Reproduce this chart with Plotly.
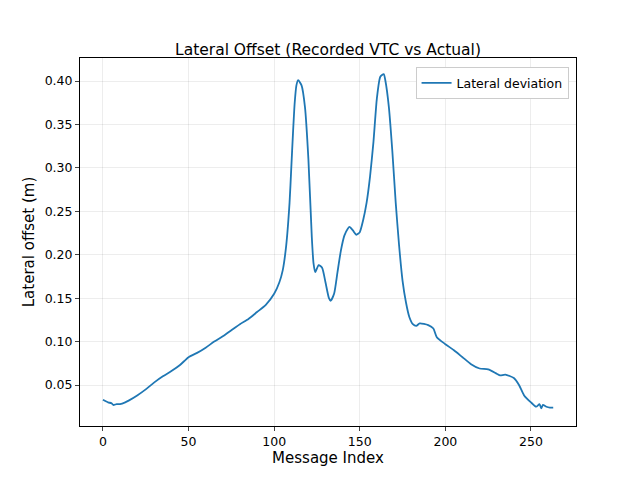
import plotly.graph_objects as go

msg_index = [0, 3, 5, 6, 8, 10, 13, 15, 20, 25, 30, 35, 40, 45, 50, 55, 60, 65, 70, 75,
             80, 85, 90, 95, 100, 103, 105, 107, 109, 110, 111, 112, 113, 114, 116, 118,
             120, 122, 123, 124, 126, 128, 130, 132, 133, 135, 137, 139, 141, 143, 144,
             146, 148, 150, 152, 154, 156, 158, 160, 162, 164, 165, 167, 169, 171, 173,
             175, 177, 179, 181, 183, 185, 190, 193, 195, 200, 205, 210, 215, 220, 225,
             230, 232, 235, 240, 243, 246, 250, 253, 255, 256, 257, 259, 261, 263, 265]
lateral_dev = [0.033, 0.030, 0.029, 0.027, 0.028, 0.028, 0.030, 0.032, 0.038, 0.045,
               0.053, 0.060, 0.066, 0.073, 0.082, 0.087, 0.093, 0.100, 0.106, 0.113,
               0.120, 0.126, 0.134, 0.142, 0.155, 0.168, 0.182, 0.21, 0.26, 0.30,
               0.34, 0.375, 0.395, 0.401, 0.395, 0.37, 0.31, 0.22, 0.19, 0.180, 0.188,
               0.185, 0.168, 0.150, 0.147, 0.155, 0.18, 0.205, 0.222, 0.230, 0.232,
               0.228, 0.223, 0.226, 0.24, 0.26, 0.29, 0.33, 0.38, 0.405, 0.408, 0.40,
               0.37, 0.32, 0.26, 0.21, 0.17, 0.145, 0.128, 0.120, 0.118, 0.121, 0.119,
               0.115, 0.105, 0.097, 0.090, 0.082, 0.074, 0.069, 0.068, 0.063, 0.061,
               0.062, 0.058, 0.050, 0.038, 0.030, 0.025, 0.028, 0.023, 0.027, 0.025,
               0.024, 0.024]

fig = go.Figure()
fig.add_trace(go.Scatter(x=msg_index, y=lateral_dev, mode="lines", name="Lateral deviation",
                         line=dict(color="#1f77b4", width=1.8, shape="spline", smoothing=0.6)))

axis_style = dict(showline=True, linecolor="black", mirror=True, ticks="outside",
                  ticklen=4, showgrid=True, gridcolor="rgba(0,0,0,0.07)", zeroline=False,
                  tickfont=dict(size=12.5))
# page body has an 8px margin, so the margins are shifted to compensate
fig.update_layout(
    width=640, height=480,
    font=dict(family="DejaVu Sans", size=12.5, color="black"),
    title=dict(text="Lateral Offset (Recorded VTC vs Actual)", x=0.5, y=0.925,
               xanchor="center", font=dict(size=15.5)),
    plot_bgcolor="white", paper_bgcolor="white",
    margin=dict(l=72, r=72, t=50, b=62),
    xaxis=dict(title=dict(text="Message Index", standoff=4), range=[-13.4, 276.3],
               tickvals=[0, 50, 100, 150, 200, 250], **axis_style),
    yaxis=dict(title=dict(text="Lateral offset (m)", standoff=6), range=[0.0028, 0.4265],
               tickvals=[0.05, 0.10, 0.15, 0.20, 0.25, 0.30, 0.35, 0.40],
               tickformat=".2f", **axis_style),
    showlegend=True,
    legend=dict(x=0.985, y=0.975, xanchor="right", yanchor="top",
                bordercolor="#cccccc", borderwidth=1, bgcolor="white"),
)
fig.write_html("out.html")
